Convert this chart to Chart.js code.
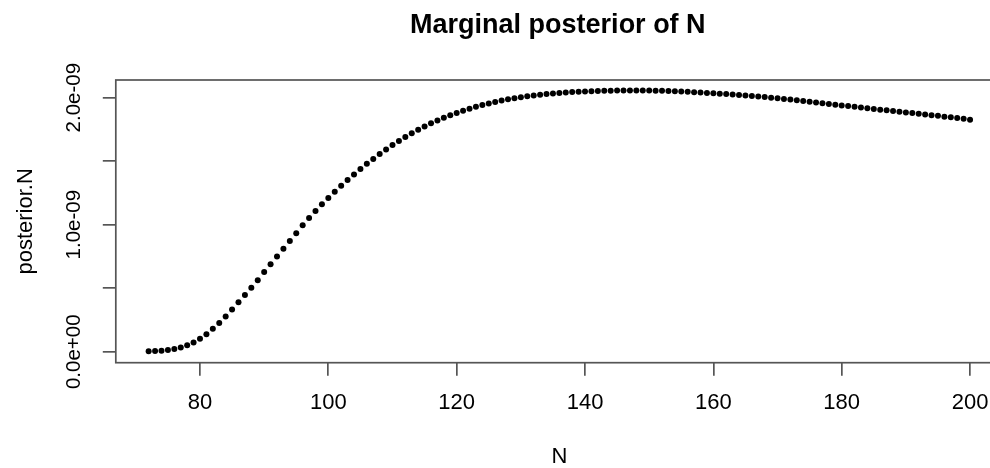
<!DOCTYPE html>
<html><head><meta charset="utf-8">
<script src="https://cdn.jsdelivr.net/npm/chart.js@4.4.0/dist/chart.umd.min.js"></script>
<style>
html,body{margin:0;padding:0;overflow:hidden;background:#fff;width:990px;height:468px}
#wrap{position:absolute;left:0;top:0;width:1010px;height:480px}
</style>
</head><body><div id="wrap"><canvas id="c" width="1010" height="480"></canvas></div>
<script>
const chartTitle = 'Marginal posterior of N';
const xAxisTitle = 'N';
const yAxisTitle = 'posterior.N';
const nValues = [72,73,74,75,76,77,78,79,80,81,82,83,84,85,86,87,88,89,90,91,92,93,94,95,96,97,98,99,
100,101,102,103,104,105,106,107,108,109,110,111,112,113,114,115,116,117,118,119,120,121,122,123,124,125,
126,127,128,129,130,131,132,133,134,135,136,137,138,139,140,141,142,143,144,145,146,147,148,149,150,151,
152,153,154,155,156,157,158,159,160,161,162,163,164,165,166,167,168,169,170,171,172,173,174,175,176,177,
178,179,180,181,182,183,184,185,186,187,188,189,190,191,192,193,194,195,196,197,198,199,200];
// posterior values in units of 1e-9
const posteriorE9 = [0.003,0.005,0.008,0.013,0.021,0.034,0.050,0.072,0.102,0.138,0.180,0.226,0.278,0.333,
0.389,0.446,0.503,0.562,0.627,0.688,0.750,0.810,0.872,0.932,0.995,1.052,1.108,1.161,
1.211,1.260,1.306,1.352,1.396,1.438,1.479,1.518,1.556,1.592,1.627,1.660,1.691,1.720,1.748,1.774,1.798,1.821,1.842,1.862,1.880,1.897,1.913,1.928,1.942,1.955,
1.966,1.977,1.987,1.996,2.004,2.011,2.018,2.024,2.029,2.034,2.038,2.041,2.044,2.047,2.049,2.051,2.053,2.054,2.055,2.056,2.056,2.057,2.057,2.056,2.056,2.055,
2.054,2.052,2.050,2.048,2.046,2.043,2.040,2.038,2.035,2.032,2.029,2.026,2.022,2.018,2.014,2.009,2.005,2.000,1.995,1.990,1.985,1.979,1.974,1.968,1.963,1.957,
1.951,1.945,1.939,1.934,1.928,1.923,1.917,1.912,1.906,1.901,1.895,1.890,1.884,1.879,1.873,1.868,1.862,1.857,1.851,1.846,1.840,1.835,1.826];
const xTickValues = [80,100,120,140,160,180,200];
const yTickValues = [0, 0.5e-9, 1e-9, 1.5e-9, 2e-9];
const yTickLabels = ['0.0e+00','','1.0e-09','','2.0e-09'];

const FONT = '"Liberation Sans", Arial, sans-serif';
const AXIS_COLOR = '#555';

const points = nValues.map((n, i) => ({x: n, y: posteriorE9[i] * 1e-9}));

const decorPlugin = {
  id: 'decor',
  afterDraw(chart) {
    const ctx = chart.ctx, a = chart.chartArea;
    ctx.save();
    ctx.strokeStyle = AXIS_COLOR;
    ctx.lineWidth = 1.7;
    ctx.strokeRect(a.left, a.top, a.right - a.left, a.bottom - a.top);
    ctx.fillStyle = '#000';
    ctx.font = 'bold 27px ' + FONT;
    ctx.textAlign = 'center';
    ctx.textBaseline = 'middle';
    ctx.fillText(chartTitle, (a.left + a.right) / 2 - 1.5, 25.5);
    const ys = chart.scales.y;
    ctx.font = '20.5px ' + FONT;
    yTickValues.forEach((v, i) => {
      if (!yTickLabels[i]) return;
      ctx.save();
      ctx.translate(74.4, ys.getPixelForValue(v));
      ctx.rotate(-Math.PI / 2);
      ctx.fillText(yTickLabels[i], 0, 0);
      ctx.restore();
    });
    ctx.restore();
  }
};

new Chart(document.getElementById('c'), {
  type: 'scatter',
  data: {
    datasets: [{
      data: points,
      showLine: false,
      pointRadius: 3,
      pointHoverRadius: 3,
      pointBackgroundColor: '#000',
      pointBorderWidth: 0,
      pointBorderColor: '#000'
    }]
  },
  options: {
    responsive: false,
    animation: false,
    devicePixelRatio: 1,
    events: [],
    layout: {padding: {left: 0, right: 7.1, top: 80, bottom: 0}},
    plugins: {legend: {display: false}, tooltip: {enabled: false}, title: {display: false}},
    scales: {
      x: {
        type: 'linear',
        min: 66.88, max: 205.12,
        afterBuildTicks: s => { s.ticks = xTickValues.map(v => ({value: v})); },
        afterFit: s => { s.height = 117.3; },
        grid: {display: true, drawOnChartArea: false, drawTicks: true, tickLength: 13, color: AXIS_COLOR, lineWidth: 1.7},
        border: {display: false},
        ticks: {font: {family: FONT, size: 22}, color: '#000', padding: 14, maxRotation: 0, minRotation: 0, autoSkip: false,
                callback: v => String(v)},
        title: {display: true, text: xAxisTitle, color: '#000', font: {family: FONT, size: 22}, padding: {top: 0, bottom: 9.4}}
      },
      y: {
        type: 'linear',
        min: -0.0866e-9, max: 2.1394e-9,
        afterBuildTicks: s => { s.ticks = yTickValues.map(v => ({value: v})); },
        afterFit: s => { s.width = 115.8; },
        grid: {display: true, drawOnChartArea: false, drawTicks: true, tickLength: 13, color: AXIS_COLOR, lineWidth: 1.7},
        border: {display: false},
        ticks: {display: false, callback: (v, i) => yTickLabels[i] || ''},
        title: {display: true, text: yAxisTitle, color: '#000', font: {family: FONT, size: 22}, padding: {top: 12.8, bottom: 0}}
      }
    }
  },
  plugins: [decorPlugin]
});
</script>
</body></html>
